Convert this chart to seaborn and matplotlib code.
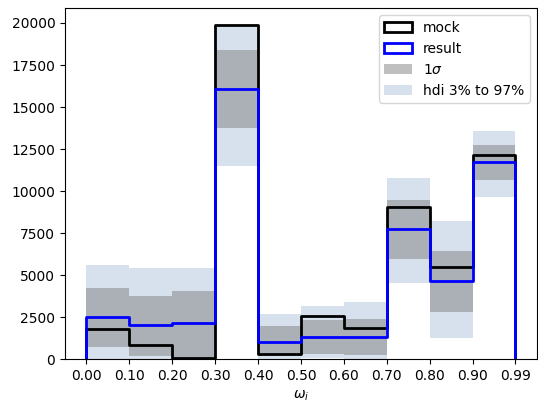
import numpy as np
import pandas as pd
import matplotlib
matplotlib.use("Agg")
import matplotlib.pyplot as plt
from matplotlib.patches import Patch
import seaborn as sns

# bin labels of omega_i (equal-width bins on the plot)
tick_labels = ["0.00", "0.10", "0.20", "0.30", "0.40", "0.50",
               "0.60", "0.70", "0.80", "0.90", "0.99"]

# counts per bin
mock = [1820, 830, 80, 19880, 300, 2570, 1880, 9040, 5480, 12170]
result = [2510, 2020, 2180, 16070, 1030, 1330, 1330, 7760, 4630, 11710]

# 1 sigma band
sig_lo = [730, 220, 50, 13770, 180, 300, 240, 5980, 2790, 10660]
sig_hi = [4270, 3780, 4040, 18400, 1980, 2320, 2420, 9500, 6470, 12740]

# hdi 3% to 97% band
hdi_lo = [0, 0, 0, 11510, 0, 50, 0, 4530, 1290, 9630]
hdi_hi = [5620, 5420, 5420, 19800, 2710, 3150, 3400, 10760, 8250, 13590]

edges = np.arange(len(tick_labels))


def step_outline(counts):
    """Outline of a step histogram that rises from and returns to zero."""
    x = np.concatenate([[edges[0]], edges, [edges[-1]]])
    y = np.concatenate([[0], counts, [counts[-1], 0]])
    return pd.DataFrame({"x": x, "y": y})


fig = plt.figure(figsize=(5.38, 4.03), dpi=100)
ax = fig.add_axes([0.1208, 0.1084, 0.8772, 0.871])

hdi_color = "lightsteelblue"
sig_color = "gray"

ax.bar(edges[:-1], np.subtract(hdi_hi, hdi_lo), bottom=hdi_lo, width=1.0,
       align="edge", color=hdi_color, alpha=0.5, linewidth=0)
ax.bar(edges[:-1], np.subtract(sig_hi, sig_lo), bottom=sig_lo, width=1.0,
       align="edge", color=sig_color, alpha=0.5, linewidth=0)

for counts, color in [(mock, "black"), (result, "blue")]:
    sns.lineplot(data=step_outline(counts), x="x", y="y", estimator=None,
                 sort=False, drawstyle="steps-post", color=color,
                 linewidth=2, ax=ax)

ax.set_xticks(edges)
ax.set_xticklabels(tick_labels)
ax.set_xlabel(r"$\omega_i$")
ax.set_ylabel("")
ax.set_ylim(0, max(mock) * 1.05)
ax.set_xlim(-0.5, len(edges) - 0.5)

handles = [
    Patch(facecolor="none", edgecolor="black", linewidth=2, label="mock"),
    Patch(facecolor="none", edgecolor="blue", linewidth=2, label="result"),
    Patch(facecolor=sig_color, alpha=0.5, linewidth=0, label=r"1$\sigma$"),
    Patch(facecolor=hdi_color, alpha=0.5, linewidth=0, label="hdi 3% to 97%"),
]
ax.legend(handles=handles, loc="upper right")

fig.savefig("out.png", dpi=100)
